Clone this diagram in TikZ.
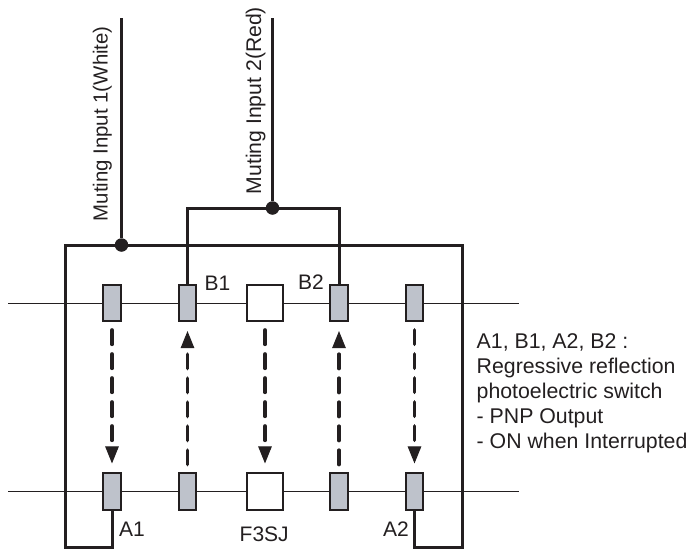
\documentclass[tikz,border=0pt]{standalone}
\usepackage{xcolor}
\usepackage{fontspec}
\setmainfont{Liberation Sans}
\usetikzlibrary{arrows.meta}
\definecolor{InkDark}{HTML}{231F20}
\definecolor{SwitchGray}{HTML}{BEC2CB}
\tikzset{
  sensorbox/.style={draw=InkDark,fill=SwitchGray,line width=1.6pt,inner sep=0pt,minimum width=17.5pt,minimum height=36.5pt},
  centerbox/.style={draw=InkDark,fill=white,line width=1.6pt,inner sep=0pt,minimum width=36.5pt,minimum height=36.5pt},
  junction/.style={circle,fill=InkDark,inner sep=0pt,minimum size=13.5pt},
  thinline/.style={draw=InkDark,line width=1pt},
  wire/.style={draw=InkDark,line width=3pt},
  beam/.style={draw=InkDark,line width=3.8pt,dash pattern=on 14.2pt off 9.8pt,line cap=round,shorten <=8pt,shorten >=31pt},
  beamhead/.style={draw=InkDark,line width=1pt,shorten >=9pt,shorten <=130pt,
    -{Triangle[length=17pt,width=13.5pt]}},
  lbl/.style={font=\fontsize{21}{25}\selectfont,text=InkDark,inner sep=0pt},
  sidelbl/.style={font=\fontsize{#1}{25}\selectfont,text=InkDark,inner sep=0pt,rotate=90,anchor=base west},
}
\begin{document}
\begin{tikzpicture}[x=1pt,y=-1pt]
  \useasboundingbox (0,0) rectangle (689,552);
  % free ends of the thin lines and the two inputs
  \coordinate (upL) at (8,303);
  \coordinate (upR) at (519,303);
  \coordinate (loL) at (8,491.5);
  \coordinate (loR) at (519,491.5);
  \coordinate (inA) at (121.5,18);
  \coordinate (inB) at (272.5,18);
  \draw[thinline] (upL) -- (upR);
  \draw[thinline] (loL) -- (loR);
  % upper row
  \node[sensorbox] (U1) at (112,303) {};
  \node[sensorbox] (B1) at (187.5,303) {};
  \node[centerbox] (U3) at (265,303) {};
  \node[sensorbox] (B2) at (339,303) {};
  \node[sensorbox] (U5) at (414.5,303) {};
  % lower row
  \node[sensorbox] (A1) at (112,491.5) {};
  \node[sensorbox] (L2) at (187.5,491.5) {};
  \node[centerbox] (F3) at (265,491.5) {};
  \node[sensorbox] (L4) at (339,491.5) {};
  \node[sensorbox] (A2) at (414.5,491.5) {};
  % beams
  \draw[beam] (U1.south) -- (A1.north);
  \draw[beam] (L2.north) -- (B1.south);
  \draw[beam] (U3.south) -- (F3.north);
  \draw[beam] (L4.north) -- (B2.south);
  \draw[beam] (U5.south) -- (A2.north);
  \draw[beamhead] (U1.south) -- (A1.north);
  \draw[beamhead] (L2.north) -- (B1.south);
  \draw[beamhead] (U3.south) -- (F3.north);
  \draw[beamhead] (L4.north) -- (B2.south);
  \draw[beamhead] (U5.south) -- (A2.north);
  % wiring
  \node[junction] (J1) at (121.5,245) {};
  \node[junction] (J2) at (272.5,208) {};
  \draw[wire] (A1.south) |- (65,547.5) |- (J1.center) -| (462,547.5) -| (A2.south);
  \draw[wire] (B1.north) |- (J2.center) -| (B2.north);
  \draw[wire] (inA) -- (J1);
  \draw[wire] (inB) -- (J2);
  % labels
  \node[lbl,anchor=base west] (tB1) at (204.5,290) {B1};
  \node[lbl,anchor=base west] (tB2) at (298,289.5) {B2};
  \node[lbl,anchor=base west] (tA1) at (119,536) {A1};
  \node[lbl,anchor=base west] (tA2) at (383,536) {A2};
  \node[lbl,anchor=base west] (tF3) at (239.5,541.7) {F3SJ};
  \node[sidelbl=20.4] (tIn1) at (107.5,221.5) {Muting Input 1(White)};
  \node[sidelbl=21.2] (tIn2) at (261,194.5) {Muting Input 2(Red)};
  \node[lbl,anchor=north west,align=left,font=\fontsize{21.3}{25}\selectfont] (tNote) at (476.5,333)
    {A1, B1, A2, B2 :\\Regressive reflection\\photoelectric switch\\- PNP Output\\- ON when Interrupted};
\end{tikzpicture}
\end{document}
